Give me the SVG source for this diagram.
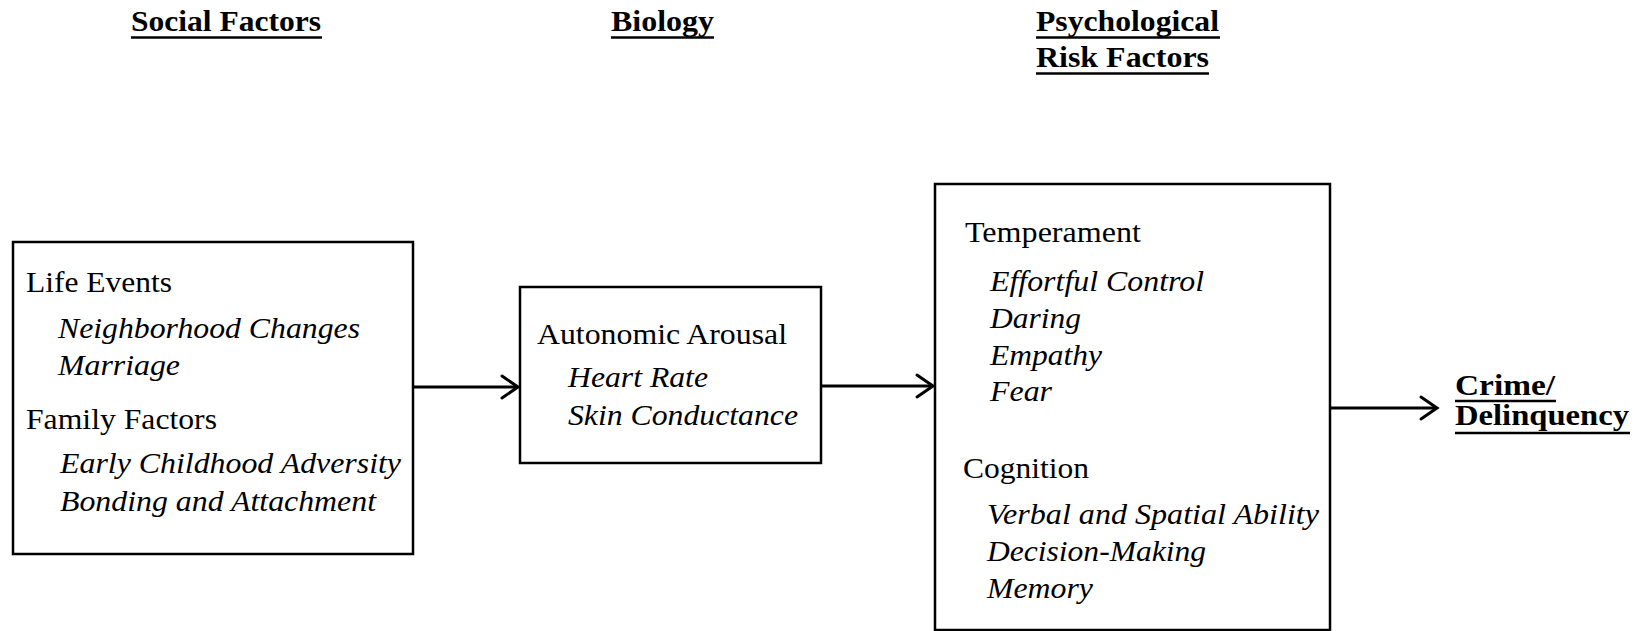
<svg xmlns="http://www.w3.org/2000/svg" width="1644" height="631" viewBox="0 0 1644 631">
<style>
text{font-family:"Times New Roman","Liberation Serif",Tinos,Times,serif;font-size:29px;fill:#000}
.h{font-weight:bold}
.i{font-style:italic}
.box{fill:#fff;stroke:#000;stroke-width:2.5}
.ul{stroke:#000;stroke-width:2.6}
.conn line{stroke:#000;stroke-width:3}
.conn polyline{fill:none;stroke:#000;stroke-width:3;stroke-linecap:round;stroke-linejoin:miter}
</style>
<rect width="1644" height="631" fill="#fff"/>
<g id="headers">
<text class="h" x="131" y="31" textLength="190" lengthAdjust="spacingAndGlyphs">Social Factors</text>
<line class="ul" x1="131" y1="37.5" x2="322" y2="37.5"/>
<text class="h" x="611" y="31" textLength="103" lengthAdjust="spacingAndGlyphs">Biology</text>
<line class="ul" x1="611" y1="37.5" x2="714" y2="37.5"/>
<text class="h" x="1036" y="31" textLength="183" lengthAdjust="spacingAndGlyphs">Psychological</text>
<line class="ul" x1="1036" y1="37.5" x2="1220" y2="37.5"/>
<text class="h" x="1036" y="67" textLength="173" lengthAdjust="spacingAndGlyphs">Risk Factors</text>
<line class="ul" x1="1036" y1="73.5" x2="1209" y2="73.5"/>
</g>
<g id="social">
<rect class="box" x="13" y="242" width="400" height="312"/>
<text x="26" y="292" textLength="146" lengthAdjust="spacingAndGlyphs">Life Events</text>
<text class="i" x="58" y="338" textLength="302" lengthAdjust="spacingAndGlyphs">Neighborhood Changes</text>
<text class="i" x="58" y="375" textLength="122" lengthAdjust="spacingAndGlyphs">Marriage</text>
<text x="26" y="429" textLength="191" lengthAdjust="spacingAndGlyphs">Family Factors</text>
<text class="i" x="60" y="473" textLength="341" lengthAdjust="spacingAndGlyphs">Early Childhood Adversity</text>
<text class="i" x="60" y="511" textLength="316" lengthAdjust="spacingAndGlyphs">Bonding and Attachment</text>
</g>
<g id="biology">
<rect class="box" x="520" y="287" width="301" height="176"/>
<text x="537" y="344" textLength="250" lengthAdjust="spacingAndGlyphs">Autonomic Arousal</text>
<text class="i" x="568" y="387" textLength="140" lengthAdjust="spacingAndGlyphs">Heart Rate</text>
<text class="i" x="568" y="425" textLength="230" lengthAdjust="spacingAndGlyphs">Skin Conductance</text>
</g>
<g id="psych">
<rect class="box" x="935" y="184" width="395" height="446"/>
<text x="965" y="242" textLength="176" lengthAdjust="spacingAndGlyphs">Temperament</text>
<text class="i" x="990" y="291" textLength="214" lengthAdjust="spacingAndGlyphs">Effortful Control</text>
<text class="i" x="990" y="328" textLength="91" lengthAdjust="spacingAndGlyphs">Daring</text>
<text class="i" x="990" y="365" textLength="112" lengthAdjust="spacingAndGlyphs">Empathy</text>
<text class="i" x="990" y="401" textLength="62" lengthAdjust="spacingAndGlyphs">Fear</text>
<text x="963" y="478" textLength="126" lengthAdjust="spacingAndGlyphs">Cognition</text>
<text class="i" x="987" y="524" textLength="332" lengthAdjust="spacingAndGlyphs">Verbal and Spatial Ability</text>
<text class="i" x="987" y="561" textLength="219" lengthAdjust="spacingAndGlyphs">Decision-Making</text>
<text class="i" x="987" y="598" textLength="106" lengthAdjust="spacingAndGlyphs">Memory</text>
</g>
<g id="outcome">
<text class="h" x="1455" y="395" textLength="100" lengthAdjust="spacingAndGlyphs">Crime/</text>
<line class="ul" x1="1455" y1="401" x2="1556" y2="401"/>
<text class="h" x="1455" y="425" textLength="174" lengthAdjust="spacingAndGlyphs">Delinquency</text>
<line class="ul" x1="1455" y1="433" x2="1630" y2="433"/>
</g>
<g class="conn" id="connectors">
<line x1="414" y1="387" x2="517" y2="387"/>
<polyline points="502,376 518,387 502,398"/>
<line x1="822" y1="386" x2="932" y2="386"/>
<polyline points="917,375 933,386 917,397"/>
<line x1="1331" y1="408" x2="1436" y2="408"/>
<polyline points="1421,397 1437,408 1421,419"/>
</g>
</svg>
